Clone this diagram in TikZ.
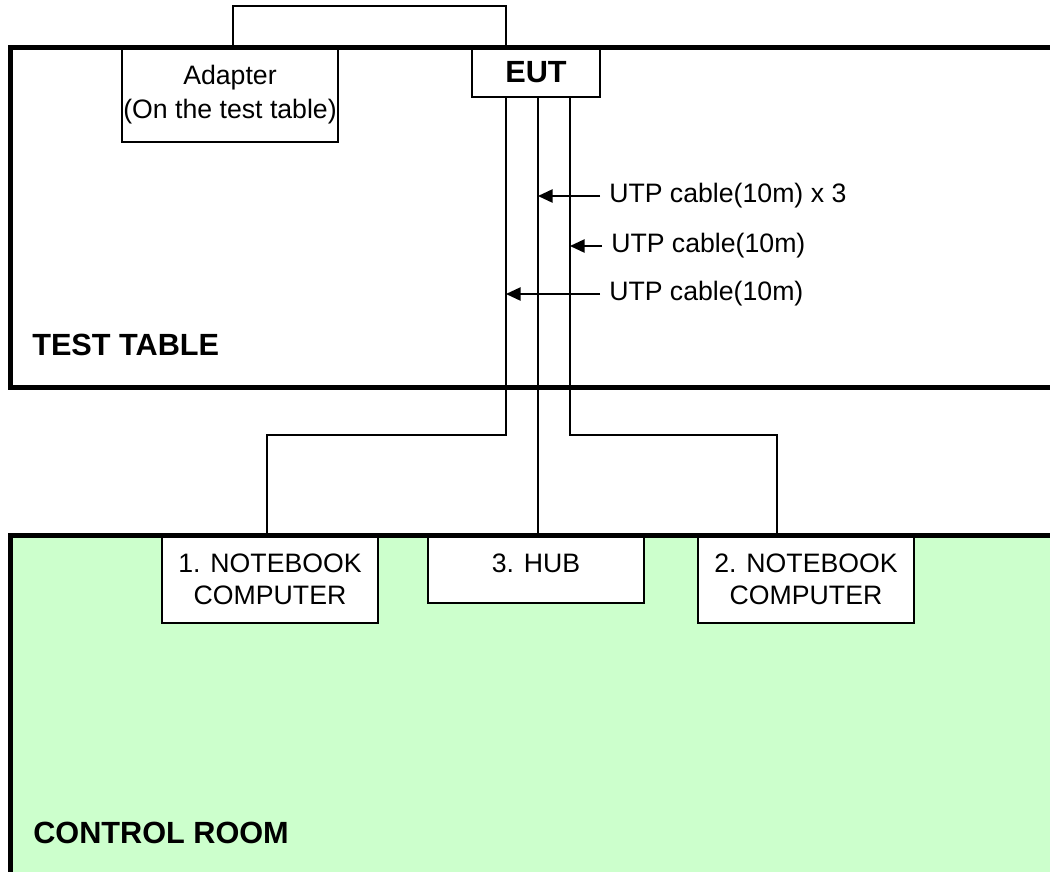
\documentclass[tikz,border=0pt]{standalone}
\usepackage{fontspec}
\setmainfont{Liberation Sans}
\usetikzlibrary{arrows.meta,calc}
\definecolor{roomgreen}{HTML}{CCFFCC}
\tikzset{
  wallline/.style={line width=3.75pt},
  devbox/.style={
    draw,
    fill=white,
    line width=1.2pt,
    align=center,
    inner sep=0pt,
    font=\fontsize{20}{24}\selectfont
  },
  cable/.style={line width=1.2pt},
  callout/.style={-{Triangle[length=11pt,width=10pt]},line width=1.2pt},
  cablelabel/.style={anchor=west,inner xsep=6.75pt,inner ysep=0pt,font=\fontsize{20}{24}\selectfont},
  arealabel/.style={anchor=base west,inner sep=0pt,font=\fontsize{23}{28}\selectfont\bfseries}
}

\begin{document}
\begin{tikzpicture}[x=0.75pt,y=-0.75pt]
  \useasboundingbox (0,0) rectangle (1050,872);
  \fill[roomgreen] (10.5,535) rectangle (1050,872);

  % devices
  \node[devbox,minimum width=162pt,minimum height=71.25pt,font=\fontsize{20}{25.5}\selectfont] (adapter) at (230,94.5) {Adapter\\(On the test table)};
  \node[devbox,minimum width=96pt,minimum height=37.5pt,font=\fontsize{23}{28}\selectfont\bfseries] (eut) at (536,72) {EUT};
  \node[devbox,minimum width=162pt,minimum height=66pt] (nb1) at (270,579) {1. NOTEBOOK\\COMPUTER};
  \node[devbox,minimum width=162pt,minimum height=51pt,text depth=9pt] (hub) at (536,569) {3. HUB};
  \node[devbox,minimum width=162pt,minimum height=66pt] (nb2) at (806,579) {2. NOTEBOOK\\COMPUTER};

  % cables
  \coordinate (ca) at (506,435);
  \coordinate (cb) at (538,435);
  \coordinate (cc) at (570,435);
  \draw[cable] ([xshift=2.25pt]adapter.north) -- ++(0,-40) -| ($(eut.north)+(-30,0)$);
  \draw[cable] (eut.south -| ca) -- (ca) -| ([xshift=-2.25pt]nb1.north);
  \draw[cable] (eut.south -| cb) -- (hub.north -| cb);
  \draw[cable] (eut.south -| cc) -- (cc) -| ([xshift=-21.75pt]nb2.north);

  \node[cablelabel] (utp3) at (600,196) {UTP cable(10m) x 3};
  \node[cablelabel] (utp2) at (602,246) {UTP cable(10m)};
  \node[cablelabel] (utp1) at (600,294) {UTP cable(10m)};
  \foreach \lab/\wire in {utp3/cb,utp2/cc,utp1/ca}
    \draw[callout] (\lab.west) -- (\lab.west -| \wire);

  % rooms
  \draw[wallline] (1050,47) -- (10.5,47) -- (10.5,387) -- (1050,387);
  \draw[wallline] (1050,535) -- (10.5,535) -- (10.5,872);
  \node[arealabel] (tt) at (32,355) {TEST TABLE};
  \node[arealabel] (cr) at (33,843) {CONTROL ROOM};
\end{tikzpicture}
\end{document}
